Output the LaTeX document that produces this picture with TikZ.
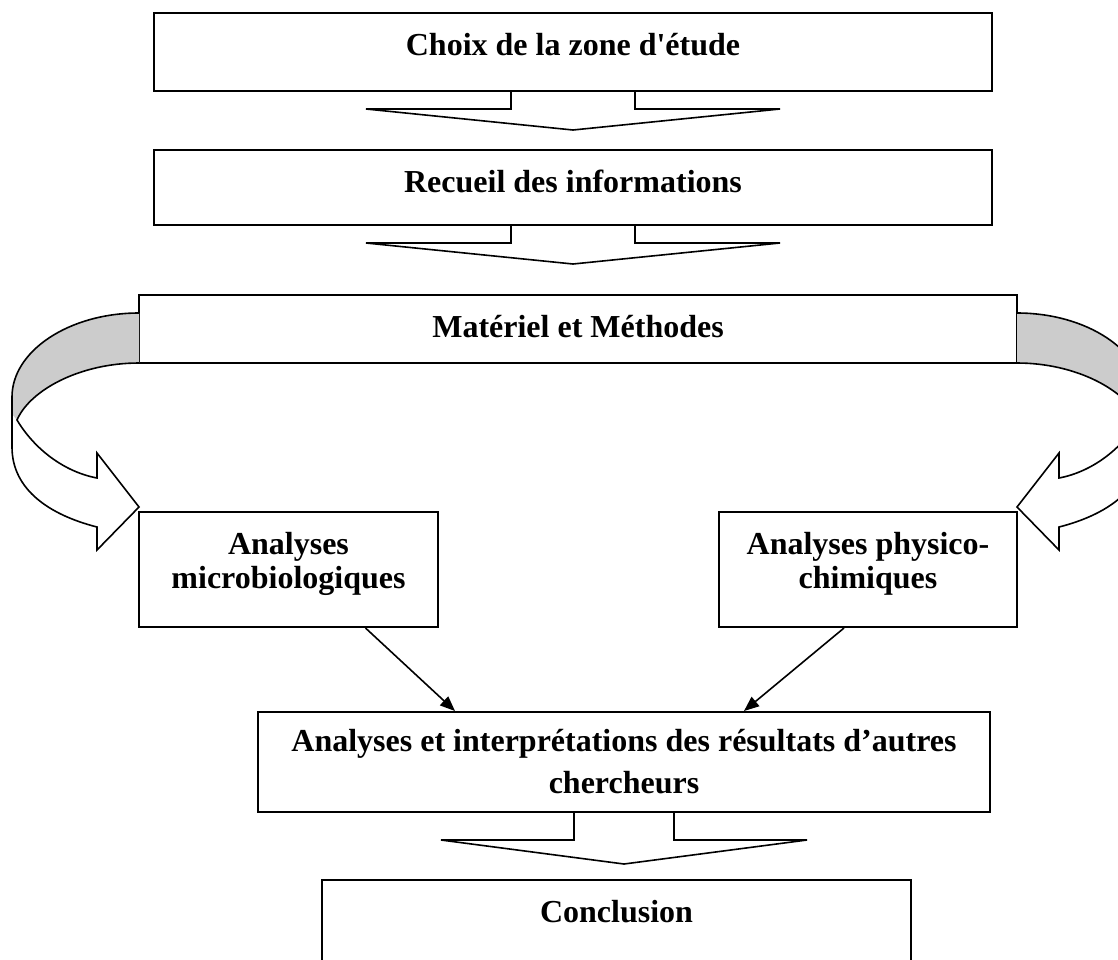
\documentclass[tikz,border=0pt]{standalone}
\usepackage{fontspec}
\setmainfont{Liberation Serif}
\usetikzlibrary{arrows.meta,calc}

\begin{document}
\begin{tikzpicture}[x=0.5pt, y=-0.5pt,
    etape/.style={draw, line width=1pt, rectangle, align=center, inner sep=0pt,
        font=\fontsize{16}{17}\selectfont\bfseries, text height=11pt},
    blocfleche/.style={draw, line width=0.8pt, line join=miter},
    fleche/.style={draw, line width=0.8pt, -{Triangle[length=7.5pt,width=6pt]}},
    ruban/.style={draw, line width=0.8pt, line join=miter}]

    \useasboundingbox (0,0) rectangle (1118,959);
    \clip (0,0) rectangle (1118,959);

    % Etapes
    \node[etape, minimum width=419pt, minimum height=39pt, text depth=8pt] (choix) at (573,52) {Choix de la zone d\textquotesingle étude};
    \node[etape, minimum width=419pt, minimum height=37.5pt, text depth=6.5pt] (recueil) at (573,187.5) {Recueil des informations};
    \node[etape, minimum width=439pt, minimum height=34pt, text depth=3pt] (materiel) at (578,329) {Matériel et Méthodes};
    \node[etape, minimum width=149.5pt, minimum height=57.5pt, text height=21.75pt, text depth=3pt] (microbio) at (288.5,569.5) {Analyses\\microbiologiques};
    \node[etape, minimum width=149pt, minimum height=57.5pt, text height=21.75pt, text depth=3pt] (physico) at (868,569.5) {Analyses physico-\\chimiques};
    \node[etape, minimum width=366pt, minimum height=50pt, text height=34pt, text depth=3pt,
        font=\fontsize{16}{21}\selectfont\bfseries] (interp) at (624,762) {Analyses et interprétations des résultats d’autres\\chercheurs};
    \node[etape, minimum width=294.5pt, minimum height=60pt, text depth=29pt] (conclusion) at (616.5,940) {Conclusion};

    % Fleches blocs
    \draw[blocfleche] ($(choix.south)+(-62,0)$) -- ++(0,17) -- ++(-145,0) -- ++(207,21) -- ++(207,-21) -- ++(-145,0) -- ++(0,-17);
    \draw[blocfleche] ($(recueil.south)+(-62,0)$) -- ++(0,17) -- ++(-145,0) -- ++(207,21) -- ++(207,-21) -- ++(-145,0) -- ++(0,-17);
    \draw[blocfleche] ($(interp.south)+(-50,0)$) -- ++(0,27) -- ++(-133,0) -- ++(183,24) -- ++(183,-24) -- ++(-133,0) -- ++(0,-27);

    % Fleches vers la synthese
    \draw[fleche] ($(microbio.south)+(77,0)$) -- ($(interp.north)+(-169,0)$);
    \draw[fleche] ($(physico.south)+(-24,0)$) -- ($(interp.north)+(120,0)$);

    % Fleches courbes (gauche, puis miroir a droite)
    \foreach \sx/\ox in {1/0, -1/1156} {
      \begin{scope}[shift={(\ox,0)}, xscale=\sx]
        \fill[black!20] (139,313) .. controls (69,313) and (12,351) .. (12,397) -- (12,414) -- (17,420)
            .. controls (30,390) and (80,363) .. (139,363) -- cycle;
        \draw[ruban] (139,313) .. controls (69,313) and (12,351) .. (12,397) -- (12,447)
            .. controls (12,490) and (50,515) .. (97,527) -- (97,550) -- (139,507) -- (97,453) -- (97,478)
            .. controls (65,472) and (35,450) .. (17,420) .. controls (30,390) and (80,363) .. (139,363);
      \end{scope}
    }

\end{tikzpicture}
\end{document}
